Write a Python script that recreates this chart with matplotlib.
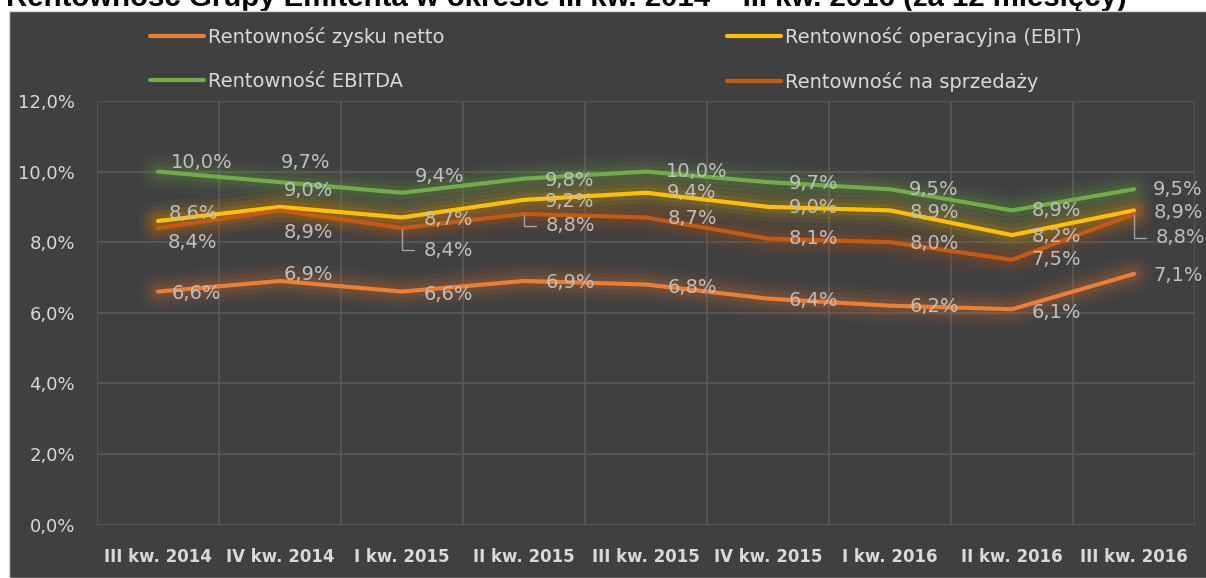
import numpy as np
import matplotlib.pyplot as plt
from matplotlib.patches import Rectangle

# categories and values (in %)
categories = ["III kw. 2014", "IV kw. 2014", "I kw. 2015", "II kw. 2015", "III kw. 2015",
              "IV kw. 2015", "I kw. 2016", "II kw. 2016", "III kw. 2016"]
netto = [6.6, 6.9, 6.6, 6.9, 6.8, 6.4, 6.2, 6.1, 7.1]
ebit = [8.6, 9.0, 8.7, 9.2, 9.4, 9.0, 8.9, 8.2, 8.9]
ebitda = [10.0, 9.7, 9.4, 9.8, 10.0, 9.7, 9.5, 8.9, 9.5]
sprzedaz = [8.4, 8.9, 8.4, 8.8, 8.7, 8.1, 8.0, 7.5, 8.8]

names = ["Rentowność zysku netto", "Rentowność operacyjna (EBIT)",
         "Rentowność EBITDA", "Rentowność na sprzedaży"]
title = "Rentowność Grupy Emitenta w okresie III kw. 2014 – III kw. 2016 (za 12 miesięcy)"

colors = ["#ED7D31", "#FFC000", "#70AD47", "#C55A11"]

# label offsets in pixels (dx, dy up) -- label centre relative to the point
off_netto = [(38, -2), (28, 6), (46, -3), (46, -2), (46, -3), (45, -2), (44, -1), (44, -3), (44, -2)]
off_ebit = [(35, 7), (28, 16), (46, -2), (46, -2), (46, 0), (45, -1), (44, -2), (44, -1), (44, -2)]
off_ebitda = [(44, 9), (26, 20), (38, 16), (46, -2), (51, 0), (45, -1), (44, 0), (44, 0), (44, 0)]
off_sprz = [(34, -14), (28, -22), (46, -22), (46, -12), (46, -1), (45, 0), (44, -1), (44, 0), (46, -24)]
leaders = [2, 3, 8]  # sales labels with leader lines

W, H = 1206, 578
fig = plt.figure(figsize=(W / 100, H / 100), dpi=100, facecolor="white")

# dark chart area
fig.patches.append(Rectangle((9 / W, 0), 1, (H - 11) / H, transform=fig.transFigure,
                             facecolor="#404040", edgecolor="#d9d9d9", lw=1, zorder=-10))

fig.text(6 / W, 1 - 6 / H, title, fontsize=21.2, fontweight="bold", family="Liberation Sans",
         color="black", ha="left", va="baseline", zorder=-20)

ax = fig.add_axes([97 / W, (H - 524.5) / H, (1195 - 97) / W, (524.5 - 101) / H])
ax.set_facecolor("none")
x = np.arange(len(categories))

series = [netto, ebit, ebitda, sprzedaz]
offsets = [off_netto, off_ebit, off_ebitda, off_sprz]

# glow
for vals, c in zip(series, colors):
    for lw, a in [(28, 0.04), (21, 0.06), (15, 0.08), (9, 0.11)]:
        ax.plot(x, vals, color=c, lw=lw, alpha=a, solid_capstyle="round",
                solid_joinstyle="round", zorder=2)

lines = []
for vals, c, n in zip(series, colors, names):
    ln, = ax.plot(x, vals, color=c, lw=3, solid_capstyle="round", solid_joinstyle="round",
                  zorder=3, label=n)
    lines.append(ln)

# data labels
for k, (vals, offs) in enumerate(zip(series, offsets)):
    for i, v in enumerate(vals):
        txt = f"{v:.1f}%".replace(".", ",")
        dx, dy = offs[i]
        if k == 3 and i in leaders:
            ax.annotate(txt, xy=(i, v), xytext=(dx - 24, dy), textcoords="offset pixels",
                        ha="left", va="center", fontsize=14, color="#bfbfbf", zorder=5,
                        arrowprops=dict(arrowstyle="-", color="#a6a6a6", lw=1,
                                        connectionstyle="angle,angleA=0,angleB=90,rad=0",
                                        relpos=(0, 0.5), shrinkA=5, shrinkB=1))
        else:
            ax.annotate(txt, xy=(i, v), xytext=(dx, dy), textcoords="offset pixels",
                        ha="center", va="center", fontsize=14, color="#bfbfbf", zorder=5)

ax.set_xlim(-0.5, len(categories) - 0.5)
ax.set_ylim(0, 12)
ax.set_yticks(np.arange(0, 13, 2))
ax.set_yticklabels([f"{v:.1f}%".replace(".", ",") for v in np.arange(0, 13, 2)])
ax.set_xticks(x)
ax.set_xticklabels(categories, fontweight="bold", fontsize=12)
ax.set_xticks(np.arange(-0.5, len(categories), 1), minor=True)
ax.tick_params(axis="y", length=0, pad=16, labelsize=13, colors="#d9d9d9")
ax.tick_params(axis="x", which="both", length=0, pad=17, colors="#d9d9d9")
ax.grid(axis="y", which="major", color="#595959", lw=1.2)
ax.grid(axis="x", which="minor", color="#595959", lw=1.2)
ax.set_axisbelow(True)
for s in ax.spines.values():
    s.set_visible(False)

# legend in two columns
fs = 14
kw = dict(frameon=False, fontsize=fs, labelcolor="#d9d9d9", handlelength=2.78,
          handletextpad=0.2, labelspacing=1.3, borderpad=0, borderaxespad=0, loc="upper left")
leg1 = ax.legend([lines[0], lines[2]], [names[0], names[2]],
                 bbox_to_anchor=(150 / W, 1 - 27 / H), bbox_transform=fig.transFigure, **kw)
ax.add_artist(leg1)
ax.legend([lines[1], lines[3]], [names[1], names[3]],
          bbox_to_anchor=(727 / W, 1 - 27 / H), bbox_transform=fig.transFigure, **kw)

plt.savefig("out.png", dpi=100, facecolor="white")
